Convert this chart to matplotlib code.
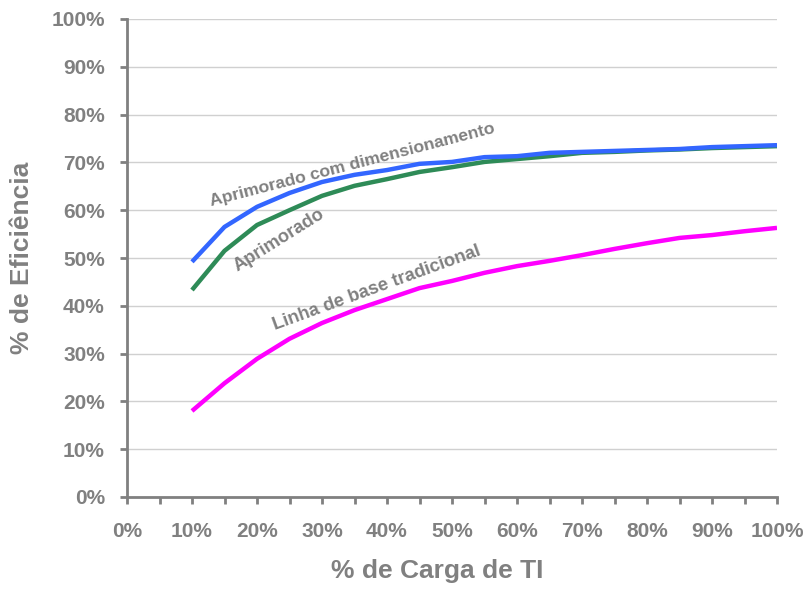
import numpy as np
import matplotlib.pyplot as plt

plt.rcParams['font.family'] = ['Liberation Sans', 'DejaVu Sans']

# carga de TI (%)
carga = [10, 15, 20, 25, 30, 35, 40, 45, 50, 55, 60, 65, 70, 75, 80, 85, 90, 95, 100]
aprimorado_dim = [49.2, 56.5, 60.7, 63.6, 65.9, 67.4, 68.4, 69.7, 70.1, 71.1, 71.3,
                  72.0, 72.2, 72.4, 72.6, 72.8, 73.2, 73.4, 73.6]
aprimorado = [43.3, 51.5, 56.9, 60.0, 63.0, 65.1, 66.5, 68.0, 69.0, 70.1, 70.7,
              71.3, 72.0, 72.2, 72.5, 72.7, 73.0, 73.2, 73.4]
linha_base = [18.0, 23.8, 28.9, 33.1, 36.4, 39.1, 41.4, 43.7, 45.2, 46.9, 48.3,
              49.4, 50.6, 51.9, 53.1, 54.2, 54.8, 55.6, 56.3]

gray = '#808080'

fig = plt.figure(figsize=(8.09, 5.89), dpi=100)
ax = fig.add_axes([127/809, 1 - 497/589, 650/809, 478/589])

ax.plot(carga, linha_base, color='#ff00ff', lw=3.2, solid_capstyle='butt')
ax.plot(carga, aprimorado, color='#2e8b57', lw=3.2, solid_capstyle='butt')
ax.plot(carga, aprimorado_dim, color='#3366ff', lw=3.2, solid_capstyle='butt')

ax.set_xlim(0, 100)
ax.set_ylim(0, 100)
ax.set_xticks(np.arange(0, 101, 5))
ax.set_xticklabels([f'{v}%' if v % 10 == 0 else '' for v in range(0, 101, 5)])
ax.set_yticks(np.arange(0, 101, 10))
ax.set_yticklabels([f'{v}%' for v in range(0, 101, 10)])
ax.grid(axis='y', color='#d0d0d0', lw=1)
ax.set_axisbelow(True)

for s in ['top', 'right']:
    ax.spines[s].set_visible(False)
for s in ['left', 'bottom']:
    ax.spines[s].set_color(gray)
    ax.spines[s].set_linewidth(2)

ax.tick_params(axis='both', colors=gray, width=2, length=5, labelsize=15)
ax.tick_params(axis='x', pad=13)
ax.tick_params(axis='y', pad=11)
for lab in ax.get_xticklabels() + ax.get_yticklabels():
    lab.set_fontweight('bold')
    lab.set_color(gray)

ax.set_xlabel('% de Carga de TI', fontsize=19, fontweight='bold', color=gray)
ax.xaxis.set_label_coords(0.477, -0.13)
ax.set_ylabel('% de Eficiência', fontsize=19, fontweight='bold', color=gray)
ax.yaxis.set_label_coords(-0.143, 0.5)

ax.text(13.0, 60.8, 'Aprimorado com dimensionamento', rotation=14.5, fontsize=12.6,
        fontweight='bold', color=gray, rotation_mode='anchor')
ax.text(17.0, 47.2, 'Aprimorado', rotation=32, fontsize=13.2,
        fontweight='bold', color=gray, rotation_mode='anchor')
ax.text(22.8, 35.0, 'Linha de base tradicional', rotation=20, fontsize=13.2,
        fontweight='bold', color=gray, rotation_mode='anchor')

fig.savefig('out.png', dpi=100)
